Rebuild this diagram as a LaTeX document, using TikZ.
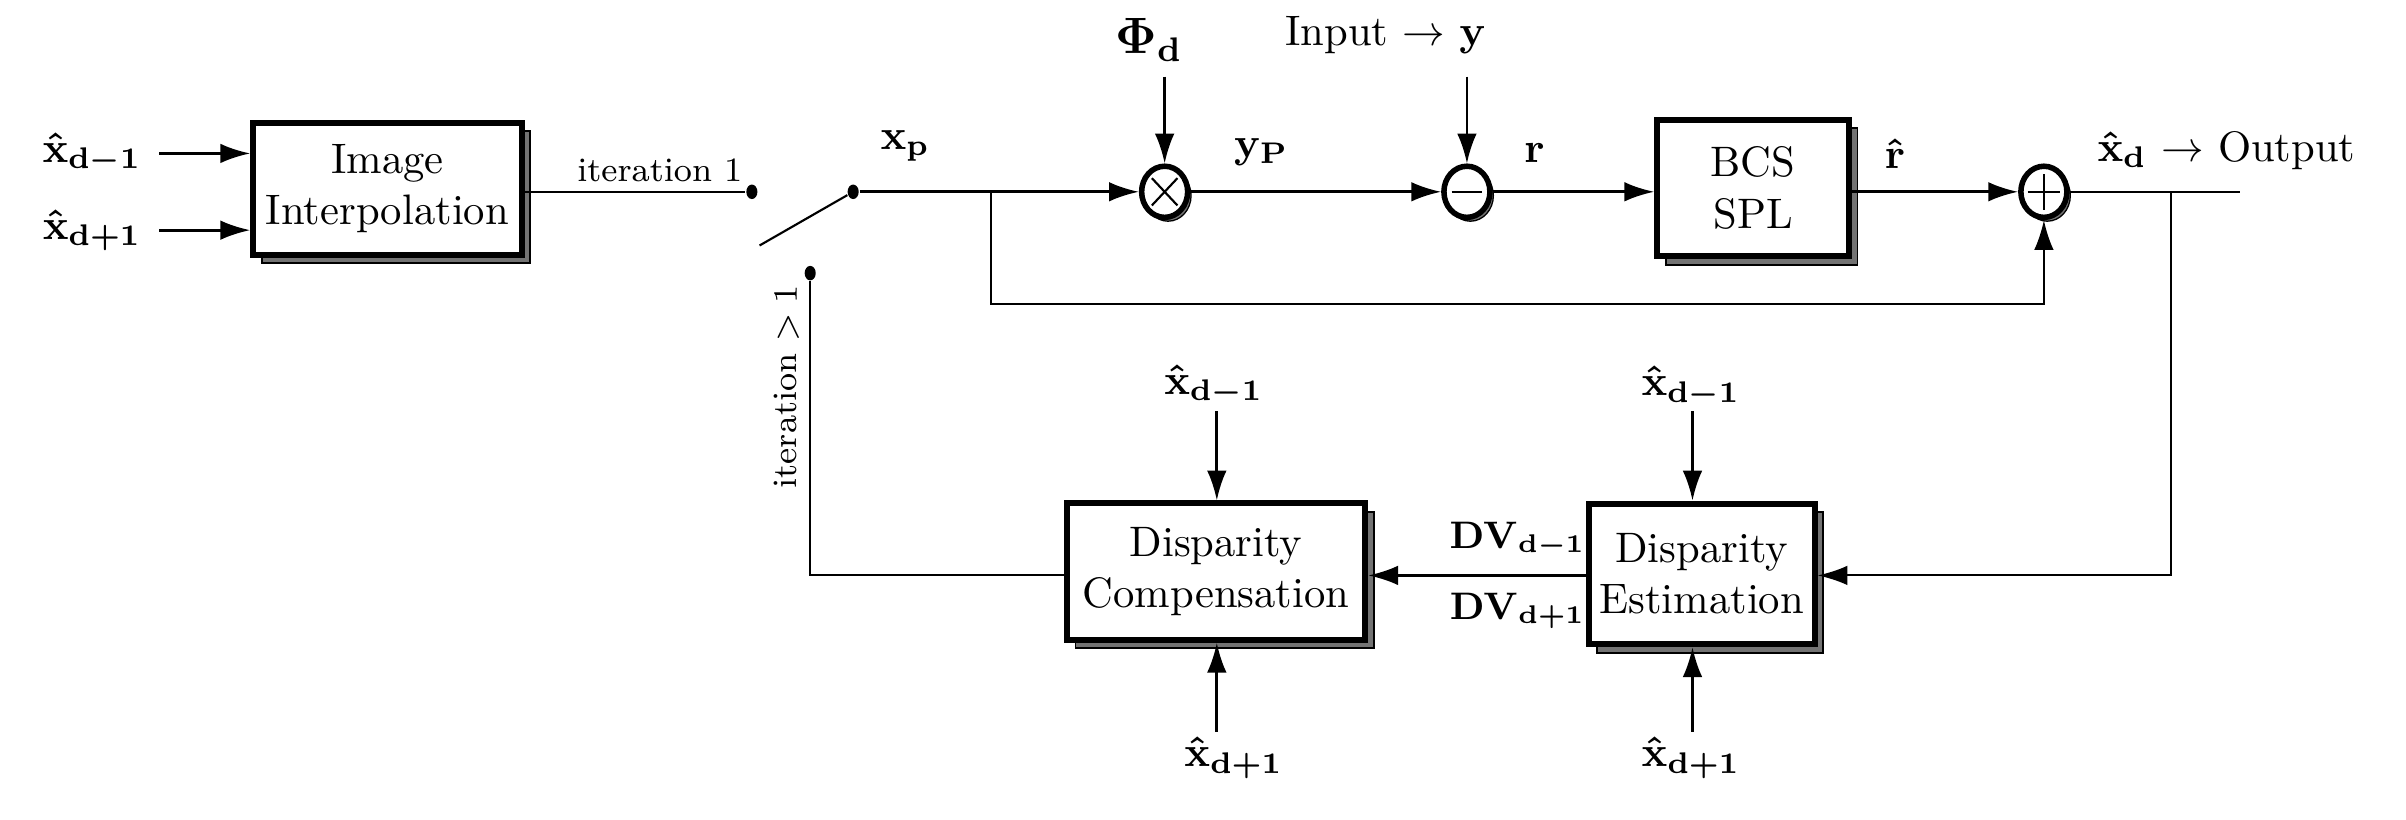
\documentclass[tikz,border=0pt]{standalone}
\usepackage{amsmath}
\usetikzlibrary{arrows.meta,shapes.geometric,shadows,calc}
\begin{document}
\begin{tikzpicture}[x=0.36pt,y=-0.36pt,
  blk/.style={draw, line width=1.4pt, fill=white, align=center, inner sep=0pt,
    general shadow={fill=gray!90!black, draw=black, line width=0.4pt, shadow xshift=2pt, shadow yshift=-2pt}},
  sumc/.style={ellipse, draw, line width=1.3pt, fill=white, inner sep=0pt, minimum width=10.8pt, minimum height=12pt,
    general shadow={fill=gray!90!black, draw=black, line width=0.3pt, shadow xshift=0.8pt, shadow yshift=-0.9pt}},
  lab/.style={font=\boldmath, inner sep=1pt},
  dot/.style={ellipse, fill, inner sep=0pt, minimum width=2.6pt, minimum height=3.4pt},
  arr/.style={-{Latex[length=7pt,width=4.6pt]}, line width=0.65pt},
  ln/.style={line width=0.5pt}
]
\useasboundingbox (0,0) rectangle (1568,534);

% left inputs and image interpolation
\node[blk, minimum width=63pt, minimum height=31pt] (ii) at (252.5,123) {Image\\Interpolation};
\node[lab] (in1) at (60,100) {$\hat{\mathbf{x}}_{\mathbf{d-1}}$};
\node[lab] (in2) at (60,150) {$\hat{\mathbf{x}}_{\mathbf{d+1}}$};
\draw[arr, shorten <=3pt] (in1.east) -- (in1.east -| ii.west);
\draw[arr, shorten <=3pt] (in2.east) -- (in2.east -| ii.west);

% switch
\node[dot] (s1) at (490,125) {};
\node[dot] (s2) at (556,125) {};
\node[dot] (s3) at (528,178) {};
\coordinate (sw0) at (495,160);
\draw[ln] (ii.east |- s1) -- (s1);
\node[font=\footnotesize, anchor=south, inner sep=1pt] (it1) at (430,122) {iteration 1};
\draw[ln] (sw0) -- (s2);

% top chain
\node[sumc, path picture={\draw[line width=0.5pt] ($(path picture bounding box.center)+(-3pt,-3.2pt)$) -- ($(path picture bounding box.center)+(3pt,3.2pt)$) ($(path picture bounding box.center)+(-3pt,3.2pt)$) -- ($(path picture bounding box.center)+(3pt,-3.2pt)$);}] (mul) at (759,125) {};
\node[sumc, path picture={\draw[line width=0.6pt] ($(path picture bounding box.center)+(-3.6pt,0)$) -- ($(path picture bounding box.center)+(3.6pt,0)$);}] (minus) at (956,125) {};
\node[sumc, path picture={\draw[line width=0.6pt] ($(path picture bounding box.center)+(-3.8pt,0)$) -- ($(path picture bounding box.center)+(3.8pt,0)$) ($(path picture bounding box.center)+(0,-4.2pt)$) -- ($(path picture bounding box.center)+(0,4.2pt)$);}] (plus) at (1332,125) {};
\node[blk, minimum width=45pt, minimum height=32pt] (bcs) at (1142.5,122.5) {BCS\\SPL};

\node[lab] (xp) at (590,95) {$\mathbf{x}_{\mathbf{p}}$};
\node[lab] (phi) at (749,26) {\large$\Phi_{\mathbf{d}}$};
\node (inp) at (903,23) {Input $\rightarrow$ {\boldmath$\mathbf{y}$}};
\node[lab] (yp) at (822,99) {$\mathbf{y}_{\mathbf{P}}$};
\node[lab] (r) at (1000,100) {$\mathbf{r}$};
\node[lab] (rh) at (1235,100) {$\hat{\mathbf{r}}$};
\node (outl) at (1451,98) {{\boldmath$\hat{\mathbf{x}}_{\mathbf{d}}$} $\rightarrow$ Output};

\coordinate (phiA) at (759,50);
\coordinate (inpA) at (956,50);
\coordinate (br1) at (646,125);
\coordinate (fb) at (646,198);
\coordinate (outE) at (1460,125);
\coordinate (br2) at (1415,125);

\draw[arr] (s2) -- (mul.west);
\draw[arr] (phiA) -- (mul.north);
\draw[arr] (mul.east) -- (minus.west);
\draw[arr] (inpA) -- (minus.north);
\draw[arr] (minus.east) -- (minus.east -| bcs.west);
\draw[arr] (plus.west -| bcs.east) -- (plus.west);
\draw[ln] (plus.east) -- (outE);
\draw[arr, line width=0.5pt] (br1) -- (fb) -| (plus.south);

% bottom chain
\node[blk, minimum width=53pt, minimum height=33pt] (de) at (1109,374) {Disparity\\Estimation};
\node[blk, minimum width=70pt, minimum height=32pt] (dc) at (792.5,372.5) {Disparity\\Compensation};

\draw[arr, line width=0.5pt] (br2) |- (de.east |- 0,375);
\draw[arr] (de.west |- 0,375) -- (dc.east |- 0,375);
\node[lab, font=\small\boldmath] (dv1) at (989,352) {$\mathbf{DV}_{\mathbf{d-1}}$};
\node[lab, font=\small\boldmath] (dv2) at (989,398) {$\mathbf{DV}_{\mathbf{d+1}}$};
\draw[ln] (dc.west |- 0,375) -| (s3);
\node[font=\footnotesize, rotate=90, anchor=south, inner sep=1pt] (itn) at (524,252) {iteration $>1$};

\node[lab] (c1) at (791,251) {$\hat{\mathbf{x}}_{\mathbf{d-1}}$};
\node[lab] (c2) at (804,494) {$\hat{\mathbf{x}}_{\mathbf{d+1}}$};
\node[lab] (e1) at (1102,252) {$\hat{\mathbf{x}}_{\mathbf{d-1}}$};
\node[lab] (e2) at (1102,494) {$\hat{\mathbf{x}}_{\mathbf{d+1}}$};
\coordinate (c1A) at (793,268);
\coordinate (c2A) at (793,477);
\coordinate (e1A) at (1103,268);
\coordinate (e2A) at (1103,477);
\draw[arr] (c1A) -- (c1A |- dc.north);
\draw[arr] (c2A) -- (c2A |- dc.south);
\draw[arr] (e1A) -- (e1A |- de.north);
\draw[arr] (e2A) -- (e2A |- de.south);
\end{tikzpicture}
\end{document}
